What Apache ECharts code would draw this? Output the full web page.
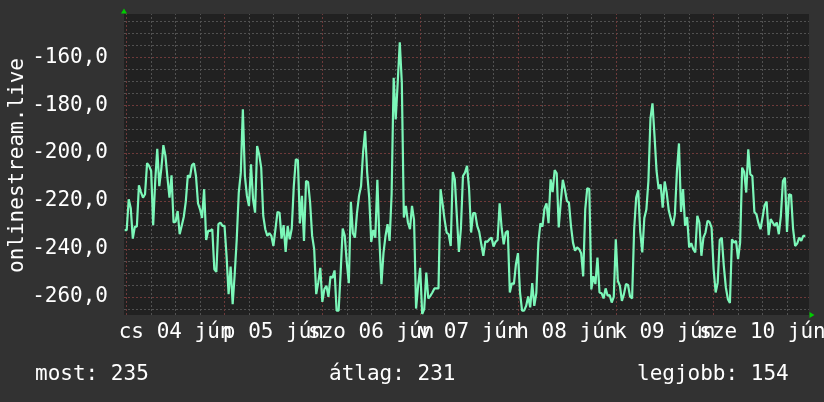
<!DOCTYPE html>
<html lang="hu">
<head>
    <meta charset="UTF-8">
    <title>onlinestream.live</title>
    <style>
        html, body { margin: 0; padding: 0; background: #323232; }
        #main { width: 824px; height: 402px; }
    </style>
    <script type="text/javascript" src="https://cdn.jsdelivr.net/npm/echarts@6/dist/echarts.min.js"></script>
</head>
<body>
<div id="main"></div>
</body>
<script>
    // half-hourly samples, starting 30 min before Thursday 00:00
    const startHour = -0.5;
    const stepHours = 0.5;
    const values = [
        -232.2, -232.2, -219.3, -223.1, -235.7, -230.7, -230.7, -213.5, -216.3, -218.6,
        -217.2, -204.2, -205.4, -207.5, -230.1, -211.7, -198.3, -213.8, -206.5, -196.7,
        -201.1, -210.3, -218.6, -209.3, -229.0, -228.7, -224.2, -233.9, -230.4, -226.7,
        -220.3, -209.3, -210.3, -205.1, -204.3, -209.6, -221.0, -223.5, -227.1, -215.1,
        -236.3, -232.4, -232.5, -231.8, -248.5, -249.6, -229.7, -229.0, -230.4, -230.4,
        -242.9, -258.9, -247.4, -263.1, -250.6, -236.0, -216.5,
        -208.2, -181.8, -209.6, -217.9, -222.1, -204.7, -219.3, -224.9, -197.1, -200.6,
        -206.1, -226.2, -231.8, -234.6, -233.5, -234.6, -238.8, -231.8, -224.6, -224.9,
        -235.7, -230.1, -241.3, -230.4, -236.0, -231.5, -213.8, -202.6, -202.9, -229.4,
        -217.9, -236.7, -211.7, -212.1, -220.7, -234.6, -240.1, -258.9, -254.0, -247.9,
        -262.1, -256.8, -255.4, -260.0, -251.5, -252.1, -249.0, -265.8, -265.8, -249.6,
        -231.5, -234.6, -245.7, -254.3, -220.4, -233.5, -235.3,
        -225.1, -217.9, -213.8, -199.6, -190.8, -208.2, -218.6, -237.1, -232.1, -235.3,
        -211.2, -236.0, -254.7, -241.8, -234.6, -229.7, -236.7, -217.2, -168.6, -186.0,
        -170.4, -153.8, -170.7, -226.9, -222.1, -229.0, -231.8, -222.1, -227.9, -264.9,
        -255.4, -247.9, -267.2, -265.1, -249.9, -260.7, -259.6, -258.2, -256.5, -256.5,
        -256.5, -215.1, -221.1, -227.9, -233.2, -233.9, -238.8, -207.9, -211.0, -226.2,
        -241.3, -231.5, -209.6, -208.2, -205.4, -214.9, -233.2,
        -225.1, -225.1, -230.4, -232.9, -238.1, -242.9, -236.8, -237.1, -236.0, -235.3,
        -239.0, -237.1, -236.3, -221.0, -231.5, -238.1, -233.2, -232.5, -258.2, -254.3,
        -254.7, -246.4, -241.8, -258.2, -265.8, -265.8, -263.8, -259.9, -264.4, -254.3,
        -263.8, -258.5, -237.4, -229.4, -230.7, -223.2, -221.0, -229.3, -211.0, -216.3,
        -207.1, -208.5, -231.1, -220.4, -211.2, -215.1, -220.0, -220.7, -230.4, -237.4,
        -240.8, -239.4, -240.1, -241.8, -251.5, -223.5,
        -214.7, -215.0, -256.9, -251.4, -254.7, -243.6, -258.2, -258.5, -260.7, -256.5,
        -259.6, -259.3, -262.4, -260.0, -236.0, -253.3, -255.4, -261.7, -258.9, -254.7,
        -255.1, -259.9, -260.7, -231.8, -218.6, -215.6, -232.9, -241.5, -227.1, -223.6,
        -211.7, -185.7, -179.3, -192.9, -207.5, -215.0, -213.1, -222.8, -211.9, -216.7,
        -224.0, -227.4, -230.4, -225.6, -207.5, -196.0, -224.6, -215.1, -230.4, -226.7,
        -239.4, -237.6, -240.1, -241.5, -226.2, -229.0, -242.9,
        -235.3, -233.2, -228.3, -228.8, -231.1, -248.5, -258.2, -254.0, -236.3, -235.3,
        -247.1, -256.1, -261.0, -262.6, -236.0, -237.4, -236.7, -244.3, -237.4, -206.1,
        -207.9, -216.5, -198.5, -208.9, -209.6, -224.6, -225.6, -229.3, -231.8, -226.9,
        -221.8, -220.3, -234.3, -227.6, -229.0, -230.4, -229.0, -233.9, -226.2, -211.7,
        -210.3, -232.9, -217.2, -217.5, -231.8, -238.8, -237.8, -235.3, -236.7, -234.6,
        -234.6
    ];

    const dayLabels = ['cs 04 jún', 'p 05 jún', 'szo 06 jún', 'v 07 jún', 'h 08 jún', 'k 09 jún', 'sze 10 jún'];
    const dayLabelHours = [12, 36, 60, 84, 108, 132, 156];
    const yTickValues = [-260, -240, -220, -200, -180, -160];
    const footerTexts = ['most: 235', 'átlag: 231', 'legjobb: 154'];
    const axisTitle = 'onlinestream.live';

    const xMin = -0.66, xMax = 167.4;
    const yMin = -267.6, yMax = -142;

    const font = '"DejaVu Sans Mono", monospace';
    const minorColor = '#515151';
    const majorColor = '#6e3a3a';

    let points = values.map((v, i) => [startHour + i * stepHours, v]);

    // grid lines as mark lines (axis interval would start counting at min)
    let gridLines = [];
    for (let h = 6; h < xMax; h += 6) {
        if (h % 24 !== 0) gridLines.push({xAxis: h, lineStyle: {color: minorColor}});
    }
    for (let v = -265; v < yMax; v += 5) {
        if (v % 20 !== 0) gridLines.push({yAxis: v, lineStyle: {color: minorColor}});
    }
    for (let h = 0; h < xMax; h += 24) {
        gridLines.push({xAxis: h, lineStyle: {color: majorColor}});
    }
    yTickValues.forEach(v => gridLines.push({yAxis: v, lineStyle: {color: majorColor}}));

    // labels overlap in the original, so split them over two axes
    let evenHours = dayLabelHours.filter((h, i) => i % 2 === 0);
    let oddHours = dayLabelHours.filter((h, i) => i % 2 === 1);

    function dayAxis(hours, withArrow) {
        return {
            type: 'value',
            position: 'bottom',
            min: xMin,
            max: xMax,
            axisLine: {
                show: withArrow,
                onZero: false,
                symbol: ['none', 'triangle'],
                symbolSize: [6, 5],
                symbolOffset: [0, 3],
                lineStyle: {color: '#00cc00', opacity: 0}
            },
            axisTick: {show: false},
            splitLine: {show: false},
            axisLabel: {
                customValues: hours,
                formatter: v => dayLabels[dayLabelHours.indexOf(v)],
                color: '#ffffff',
                fontFamily: font,
                fontSize: 21,
                margin: 7,
                showMinLabel: true,
                showMaxLabel: true,
                hideOverlap: false
            }
        };
    }

    let chart = echarts.init(document.getElementById('main'));
    let option = {
        backgroundColor: '#323232',
        animation: false,
        grid: {
            left: 124, right: 15, top: 14, bottom: 87,
            outerBoundsMode: 'none',
            show: true,
            backgroundColor: '#212121',
            borderWidth: 0
        },
        xAxis: [dayAxis(evenHours, true), dayAxis(oddHours, false)],
        yAxis: {
            type: 'value',
            min: yMin,
            max: yMax,
            axisLine: {
                show: true,
                onZero: false,
                symbol: ['none', 'triangle'],
                symbolSize: [6, 5],
                symbolOffset: [0, 3],
                lineStyle: {color: '#00cc00', opacity: 0}
            },
            axisTick: {show: false},
            splitLine: {show: false},
            axisLabel: {
                customValues: yTickValues,
                formatter: v => v.toFixed(1).replace('.', ','),
                color: '#ffffff',
                fontFamily: font,
                fontSize: 21,
                margin: 16
            }
        },
        graphic: [
            {
                type: 'text',
                x: 18, y: 165.5,
                rotation: Math.PI / 2,
                style: {text: axisTitle, fill: '#ffffff', font: '21px ' + font, align: 'center', verticalAlign: 'middle'}
            },
            {
                type: 'text', x: 35, y: 375,
                style: {text: footerTexts[0], fill: '#ffffff', font: '21px ' + font, verticalAlign: 'middle'}
            },
            {
                type: 'text', x: 329, y: 375,
                style: {text: footerTexts[1], fill: '#ffffff', font: '21px ' + font, verticalAlign: 'middle'}
            },
            {
                type: 'text', x: 637, y: 375,
                style: {text: footerTexts[2], fill: '#ffffff', font: '21px ' + font, verticalAlign: 'middle'}
            }
        ],
        series: [
            {
                type: 'line',
                z: 3,
                xAxisIndex: 0,
                data: points,
                showSymbol: false,
                lineStyle: {color: '#7cf7b9', width: 2.2},
                markLine: {
                    z: 1,
                    silent: true,
                    symbol: ['none', 'none'],
                    label: {show: false},
                    emphasis: {disabled: true},
                    lineStyle: {type: [2, 2], width: 1},
                    data: gridLines
                }
            }
        ]
    };
    chart.setOption(option);
</script>
</html>
